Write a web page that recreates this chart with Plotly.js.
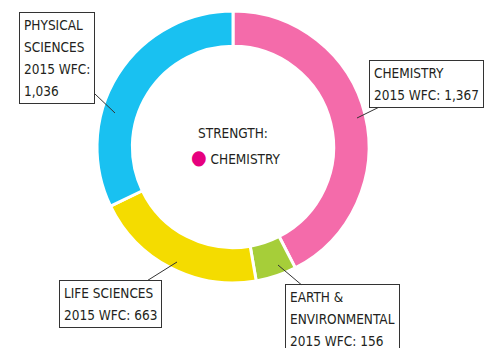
<!DOCTYPE html>
<html><head><meta charset="utf-8">
<script src="https://cdn.plot.ly/plotly-3.0.1.min.js"></script>
<style>html,body{margin:0;padding:0;background:#fff;}#chart{width:491px;height:348px;}</style>
</head><body><div id="chart"></div>
<script>
const categories = ["Chemistry", "Earth & Environmental", "Life Sciences", "Physical Sciences"];
const labelLines = [["CHEMISTRY"], ["EARTH &", "ENVIRONMENTAL"], ["LIFE SCIENCES"], ["PHYSICAL", "SCIENCES"]];
const wfc2015 = [1367, 156, 663, 1036];
const colors = ["#F46BAA", "#A6CE39", "#F4DC00", "#19C1F1"];
const strength = "CHEMISTRY";
const strengthColor = "#E6007E";

const FONT = "'DejaVu Sans Condensed', 'Liberation Sans Narrow', sans-serif";
const fmt = v => v.toLocaleString('en-US');
const TXT = 13.5;

const callouts = [
  {tip:[357,118], a:[69,-34], split:false},
  {tip:[278,265], a:[64,54], split:false},
  {tip:[177,262], a:[-67,42], split:false},
  {tip:[115,113], a:[-58,-55], split:true}
];

const W = 491, H = 348;
const line = s => "<span style='font-size:" + TXT + "px'>" + s + "</span>";
const annotations = categories.map((c, i) => {
  const lines = labelLines[i].slice();
  if (callouts[i].split) { lines.push("2015 WFC:"); lines.push(fmt(wfc2015[i])); }
  else lines.push("2015 WFC: " + fmt(wfc2015[i]));
  return {
    xref: 'paper', yref: 'paper',
    x: callouts[i].tip[0] / W, y: 1 - callouts[i].tip[1] / H,
    ax: callouts[i].a[0], ay: callouts[i].a[1],
    text: lines.map(line).join('<br>'), align: 'left',
    showarrow: true, arrowhead: 0, arrowwidth: 1, arrowcolor: '#333',
    bordercolor: '#333', borderwidth: 1, borderpad: 4, bgcolor: '#fff',
    font: {family: FONT, size: 17, color: '#231F20'}
  };
});
annotations.push({
  xref: 'paper', yref: 'paper', x: 233 / W, y: 1 - 133 / H, showarrow: false,
  text: 'STRENGTH:', font: {family: FONT, size: TXT, color: '#231F20'}
});
annotations.push({
  xref: 'paper', yref: 'paper', x: 236 / W, y: 1 - 157 / H, showarrow: false,
  text: "<span style='color:" + strengthColor + ";font-size:20px'>●</span> " + strength,
  font: {family: FONT, size: TXT, color: '#231F20'}
});

const data = [{
  type: 'pie', labels: categories, values: wfc2015, hole: 0.74,
  sort: false, direction: 'clockwise', rotation: 0,
  marker: {colors: colors, line: {color: '#fff', width: 3}},
  textinfo: 'none', hoverinfo: 'none', showlegend: false,
  domain: {x: [(233 - 136) / W, (233 + 136) / W], y: [1 - 283 / H, 1 - 11 / H]}
}];
const layout = {
  width: W, height: H, margin: {l: 0, r: 0, t: 0, b: 0},
  paper_bgcolor: '#fff', plot_bgcolor: '#fff', showlegend: false,
  annotations: annotations
};
Plotly.newPlot('chart', data, layout, {displayModeBar: false, staticPlot: true});
</script></body></html>
